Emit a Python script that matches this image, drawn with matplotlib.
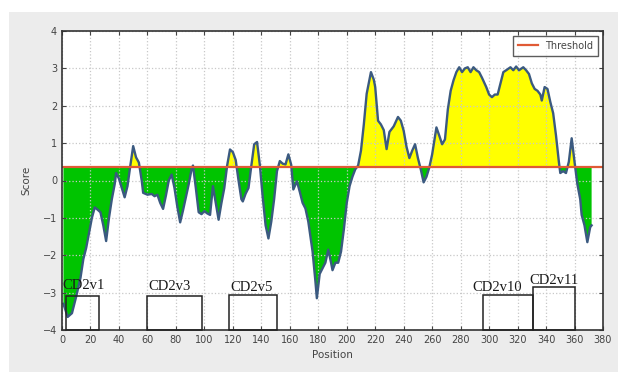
import numpy as np
import matplotlib
matplotlib.use("Agg")
import matplotlib.pyplot as plt
from matplotlib.patches import Rectangle

# score profile (position, score)
POS = [1, 4, 7, 10, 13, 15, 17, 19, 21, 23, 25, 27, 29, 31, 33, 35, 37, 38, 40, 42,
       44, 46, 48, 50, 52, 54, 56, 57, 60, 63, 65, 67, 69, 71, 73, 75, 77, 79, 81, 83,
       85, 87, 89, 91, 92, 94, 96, 98, 100, 102, 104, 106, 108, 110, 112, 114, 116, 118, 120, 122,
       124, 126, 127, 129, 131, 133, 135, 137, 139, 141, 143, 145, 147, 149, 151, 153, 155, 157, 159, 161,
       162.5, 165, 167, 169, 171, 173, 174, 176, 178, 179, 181, 183, 185, 187, 189, 190, 192, 194, 196, 198,
       200, 202, 204, 206, 208, 210, 212, 214, 217, 219, 220, 222, 224, 226, 228, 230, 233, 236, 238, 240,
       242, 244, 246, 248, 250, 252, 254, 256, 258, 260, 263, 265, 267, 269, 271, 273, 275, 277, 279, 281,
       283, 285, 287, 289, 291, 293, 295, 298, 300, 302, 304, 306, 308, 310, 312, 315, 317, 319, 321, 324,
       326, 328, 330, 332, 334, 336, 337, 339, 341, 343, 345, 347, 349, 350, 352, 354, 356, 358, 360, 362,
       364, 365, 367, 369, 370, 371, 372]
SCORE = [-3.3, -3.65, -3.55, -3.1, -2.6, -2.1, -1.8, -1.4, -1.0, -0.72, -0.78, -0.85, -1.2, -1.62, -1.0, -0.5, -0.1, 0.2, 0.05, -0.2,
         -0.45, -0.15, 0.4, 0.92, 0.62, 0.48, 0.0, -0.33, -0.38, -0.36, -0.42, -0.38, -0.6, -0.76, -0.4, 0.0, 0.16, -0.2, -0.7, -1.12,
         -0.8, -0.45, -0.1, 0.3, 0.4, -0.2, -0.85, -0.9, -0.82, -0.88, -0.92, -0.15, -0.6, -1.05, -0.6, -0.2, 0.4, 0.83, 0.76, 0.55,
         0.0, -0.5, -0.56, -0.35, -0.2, 0.4, 0.97, 1.03, 0.4, -0.45, -1.2, -1.55, -1.1, -0.5, 0.25, 0.52, 0.45, 0.43, 0.7, 0.42,
         -0.24, -0.02, -0.3, -0.6, -0.75, -1.1, -1.37, -1.9, -2.7, -3.15, -2.5, -2.35, -2.2, -1.85, -2.2, -2.4, -2.2, -2.2, -1.9, -1.3,
         -0.6, -0.15, 0.1, 0.3, 0.4, 0.8, 1.5, 2.32, 2.9, 2.7, 2.5, 1.6, 1.5, 1.35, 0.84, 1.3, 1.45, 1.7, 1.6, 1.33,
         0.9, 0.6, 0.8, 0.97, 0.6, 0.3, -0.05, 0.1, 0.35, 0.7, 1.42, 1.2, 0.97, 1.1, 1.9, 2.4, 2.68, 2.9, 3.03, 2.9,
         3.0, 3.03, 2.9, 3.03, 2.95, 2.9, 2.75, 2.5, 2.3, 2.23, 2.3, 2.3, 2.6, 2.9, 2.95, 3.03, 2.95, 3.05, 2.95, 3.03,
         2.95, 2.85, 2.6, 2.45, 2.4, 2.3, 2.14, 2.5, 2.45, 2.1, 1.8, 1.2, 0.5, 0.2, 0.25, 0.2, 0.5, 1.13, 0.5, -0.1,
         -0.5, -0.92, -1.2, -1.65, -1.45, -1.25, -1.2]
THRESHOLD = 0.35

# annotated regions: (label, start, end, box top, label x, label baseline y)
REGIONS = [("CD2v1", 3, 26, -3.1, 0, -2.9),
           ("CD2v3", 60, 98, -3.1, 60.5, -2.93),
           ("CD2v5", 117, 151, -3.07, 118, -2.95),
           ("CD2v10", 296, 330.5, -3.06, 288.5, -2.96),
           ("CD2v11", 330.5, 360.5, -2.86, 328.5, -2.76)]

x = np.array(POS)
y = np.array(SCORE)

fig = plt.figure(figsize=(6.18, 3.72), dpi=100, facecolor="white")
fig.patches.append(Rectangle((9 / 618, 0), 1, 1 - 12 / 372, transform=fig.transFigure,
                             facecolor="#ececec", edgecolor="none", zorder=-10))
ax = fig.add_axes([62 / 618, 1 - 330 / 372, 541 / 618, 299 / 372])
ax.set_facecolor("white")

ax.fill_between(x, y, THRESHOLD, where=y >= THRESHOLD, interpolate=True,
                color="#ffff00", lw=0)
ax.fill_between(x, y, THRESHOLD, where=y <= THRESHOLD, interpolate=True,
                color="#00c400", lw=0)
ax.plot(x, y, color="#3b5a80", lw=1.7)
ax.axhline(THRESHOLD, color="#e05a35", lw=1.6, label="Threshold")

for name, x0, x1, top, tx, ty in REGIONS:
    ax.add_patch(Rectangle((x0, -4), x1 - x0, top + 4, fill=False,
                           edgecolor="#222222", lw=1.1, zorder=5, clip_on=False))
    ax.text(tx, ty, name, family="Liberation Serif", fontsize=10.5,
            color="#1a1a1a", va="baseline", ha="left", zorder=6)

ax.set_xlim(0, 380)
ax.set_ylim(-4, 4)
ax.set_xticks(range(0, 381, 20))
ax.set_yticks(range(-4, 5))
ax.grid(True, color="#c8c8c8", ls=":", lw=0.9)
ax.tick_params(direction="in", top=True, right=True, labelsize=7,
               labelcolor="#444444", length=3, color="#444444")
for s in ax.spines.values():
    s.set_color("#333333")
    s.set_linewidth(1.2)
ax.set_xlabel("Position", fontsize=7.5, color="#444444", labelpad=4)
ax.set_ylabel("Score", fontsize=7.5, color="#444444", labelpad=8)

leg = ax.legend(loc="upper right", fontsize=7, frameon=True, fancybox=False,
                handlelength=2.0, borderpad=0.5, labelcolor="#444444")
leg.get_frame().set_edgecolor("#333333")
leg.get_frame().set_linewidth(1.0)

fig.savefig("out.png", dpi=100, facecolor=fig.get_facecolor())
